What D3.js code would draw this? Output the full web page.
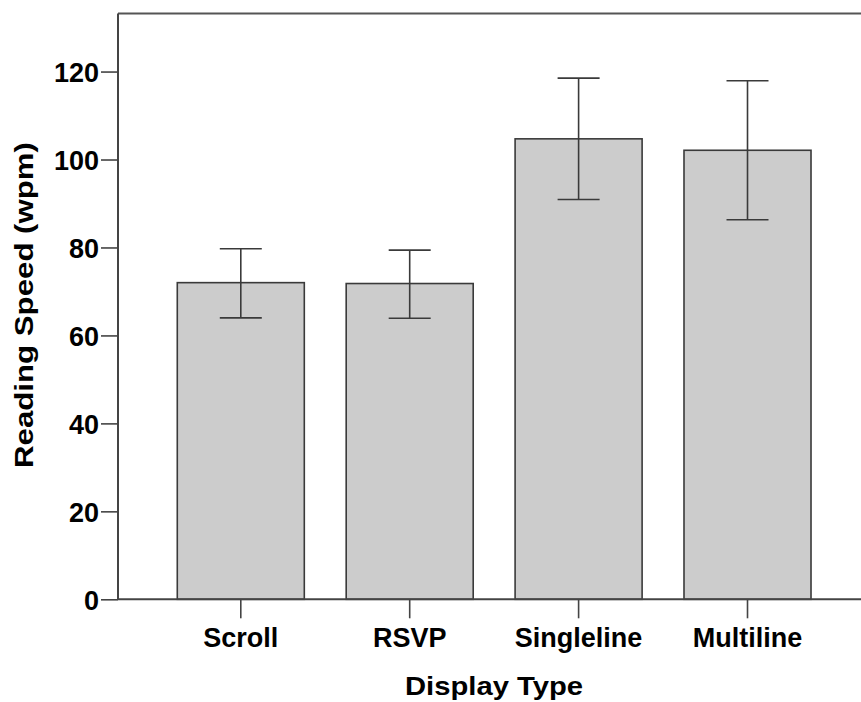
<!DOCTYPE html>
<html>
<head>
<meta charset="utf-8">
<script src="https://cdn.jsdelivr.net/npm/d3@7"></script>
<style>
  html, body { margin: 0; padding: 0; background: #fff; }
  svg text { font-family: "Liberation Sans", Arial, sans-serif; font-weight: bold; fill: #000; }
</style>
</head>
<body>
<svg id="chart" width="861" height="702"></svg>
<script>
// Mean reading speed per display type, with 95% CI bounds
const categories = ["Scroll", "RSVP", "Singleline", "Multiline"];
const means      = [72.0, 71.8, 104.7, 102.1];
const ciLow      = [64.0, 63.9, 90.9, 86.3];
const ciHigh     = [79.7, 79.4, 118.5, 117.9];
const yTicks     = [0, 20, 40, 60, 80, 100, 120];
const yMax       = 133.2;

const svg = d3.select("#chart");
const plotLeft = 118, plotBottom = 599.3, plotTop = 13.5;

const y = d3.scaleLinear().domain([0, yMax]).range([plotBottom, plotTop]);
const x = d3.scaleBand().domain(categories).range([plotLeft, 870.3])
  .paddingInner(0.248).paddingOuter(0.351);

const stroke = "#3a3a3a";

// bars
svg.append("g").selectAll("rect").data(categories).join("rect")
  .attr("x", d => x(d))
  .attr("width", x.bandwidth())
  .attr("y", (d, i) => y(means[i]))
  .attr("height", (d, i) => y(0) - y(means[i]))
  .attr("fill", "#cccccc")
  .attr("stroke", stroke)
  .attr("stroke-width", 1.6);

// error bars
const capHalf = 21;
const eb = svg.append("g").attr("stroke", stroke).attr("stroke-width", 1.6);
categories.forEach((c, i) => {
  const cx = x(c) + x.bandwidth() / 2;
  eb.append("line").attr("x1", cx).attr("x2", cx).attr("y1", y(ciLow[i])).attr("y2", y(ciHigh[i]));
  eb.append("line").attr("x1", cx - capHalf).attr("x2", cx + capHalf).attr("y1", y(ciHigh[i])).attr("y2", y(ciHigh[i]));
  eb.append("line").attr("x1", cx - capHalf).attr("x2", cx + capHalf).attr("y1", y(ciLow[i])).attr("y2", y(ciLow[i]));
});

// frame: top line
svg.append("line").attr("x1", plotLeft).attr("x2", 861).attr("y1", plotTop).attr("y2", plotTop)
  .attr("stroke", "#555").attr("stroke-width", 2);

// y axis
const yAxis = svg.append("g").attr("transform", `translate(${plotLeft},0)`)
  .call(d3.axisLeft(y).tickValues(yTicks).tickSize(17).tickPadding(2).tickFormat(d3.format("d")));
yAxis.select(".domain").attr("d", `M0,${plotTop}V${plotBottom}`).attr("stroke", "#444").attr("stroke-width", 2);
yAxis.selectAll(".tick line").attr("stroke", "#444").attr("stroke-width", 1.6);
yAxis.selectAll(".tick text").attr("font-size", 27).attr("dy", "0.36em")
  .style("font-family", "'Liberation Sans', Arial, sans-serif").style("font-weight", "bold").attr("fill", "#000");

// x axis
const xAxis = svg.append("g").attr("transform", `translate(0,${plotBottom})`)
  .call(d3.axisBottom(x).tickSize(19).tickPadding(0));
xAxis.select(".domain").attr("d", `M${plotLeft},0H861`).attr("stroke", "#444").attr("stroke-width", 2);
xAxis.selectAll(".tick line").attr("stroke", "#444").attr("stroke-width", 1.6);
xAxis.selectAll(".tick text").attr("font-size", 27).attr("dy", 0).attr("y", 47.4)
  .style("font-family", "'Liberation Sans', Arial, sans-serif").style("font-weight", "bold").attr("fill", "#000");

// axis titles
svg.append("text")
  .attr("transform", "translate(33,305) rotate(-90)")
  .attr("text-anchor", "middle")
  .attr("font-size", 25)
  .attr("textLength", 326).attr("lengthAdjust", "spacingAndGlyphs")
  .text("Reading Speed (wpm)");

svg.append("text")
  .attr("x", 494).attr("y", 695)
  .attr("text-anchor", "middle")
  .attr("font-size", 26)
  .attr("textLength", 178).attr("lengthAdjust", "spacingAndGlyphs")
  .text("Display Type");
</script>
</body>
</html>
